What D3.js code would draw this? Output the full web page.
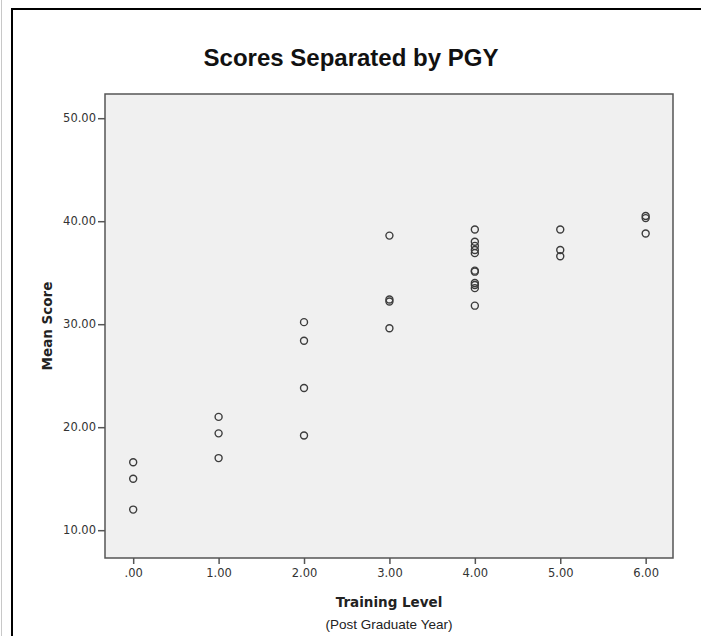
<!DOCTYPE html>
<html lang="en">
<head>
    <meta charset="UTF-8">
    <title>Scores Separated by PGY</title>
    <script src="https://d3js.org/d3.v7.min.js"></script>
    <style>
        body { margin: 0; background: #fff; }
    </style>
</head>
<body>
    <div id="chart"></div>

    <script>
        // data
        const pgyLevels = [0, 1, 2, 3, 4, 5, 6];
        const yTicks = [10, 20, 30, 40, 50];

        const pgy0 = [16.6, 15.0, 12.0];
        const pgy1 = [21.0, 19.4, 17.0];
        const pgy2 = [30.2, 28.4, 23.8, 19.2];
        const pgy3 = [38.6, 32.4, 32.2, 29.6];
        const pgy4 = [39.2, 38.0, 37.6, 37.2, 36.9, 35.2, 35.1, 34.0, 33.8, 33.5, 31.8];
        const pgy5 = [39.2, 37.2, 36.6];
        const pgy6 = [40.5, 40.3, 38.8];

        const scoresByLevel = [pgy0, pgy1, pgy2, pgy3, pgy4, pgy5, pgy6];

        const points = [];
        scoresByLevel.forEach((scores, i) => {
            scores.forEach(s => points.push({ level: pgyLevels[i], score: s }));
        });

        const W = 701, H = 636;
        const plot = { left: 105, right: 673, top: 94, bottom: 558 };

        const svg = d3.select("#chart")
            .append("svg")
            .attr("width", W)
            .attr("height", H);

        // outer frame lines
        svg.append("line").attr("x1", 1.5).attr("x2", 1.5).attr("y1", 0).attr("y2", H)
            .attr("stroke", "#c8c8c8").attr("stroke-width", 1);
        svg.append("line").attr("x1", 12).attr("x2", 12).attr("y1", 8).attr("y2", H)
            .attr("stroke", "#000").attr("stroke-width", 2);
        svg.append("line").attr("x1", 11).attr("x2", W).attr("y1", 9).attr("y2", 9)
            .attr("stroke", "#000").attr("stroke-width", 2);

        const x = d3.scaleLinear().domain([-0.33, 6.32]).range([plot.left, plot.right]);
        const y = d3.scaleLinear().domain([7.3, 52.35]).range([plot.bottom, plot.top]);

        svg.append("rect")
            .attr("x", plot.left)
            .attr("y", plot.top)
            .attr("width", plot.right - plot.left)
            .attr("height", plot.bottom - plot.top)
            .attr("fill", "#f0f0f0")
            .attr("stroke", "#555")
            .attr("stroke-width", 1.5);

        // y axis
        const yAxis = svg.append("g")
            .attr("transform", `translate(${plot.left},0)`)
            .call(d3.axisLeft(y).tickValues(yTicks).tickSize(7).tickPadding(2)
                .tickFormat(d3.format(".2f")));
        yAxis.attr("font-family", "DejaVu Sans, Verdana, sans-serif").attr("font-size", 11.5);
        yAxis.select(".domain").remove();
        yAxis.selectAll("line").attr("stroke", "#555").attr("stroke-width", 1.5);
        yAxis.selectAll("text").attr("fill", "#333");

        // x axis
        const xAxis = svg.append("g")
            .attr("transform", `translate(0,${plot.bottom})`)
            .call(d3.axisBottom(x).tickValues(pgyLevels).tickSize(6).tickPadding(5)
                .tickFormat(d => d === 0 ? ".00" : d3.format(".2f")(d)));
        xAxis.attr("font-family", "DejaVu Sans, Verdana, sans-serif").attr("font-size", 11.5);
        xAxis.select(".domain").remove();
        xAxis.selectAll("line").attr("stroke", "#555").attr("stroke-width", 1.5);
        xAxis.selectAll("text").attr("fill", "#333");

        // points
        svg.append("g")
            .selectAll("circle")
            .data(points)
            .join("circle")
                .attr("cx", d => x(d.level))
                .attr("cy", d => y(d.score))
                .attr("r", 3.5)
                .attr("fill", "none")
                .attr("stroke", "#3c3c3c")
                .attr("stroke-width", 1.4);

        // titles
        svg.append("text")
            .attr("x", 351)
            .attr("y", 66)
            .attr("text-anchor", "middle")
            .attr("font-family", "Liberation Sans, Arial, sans-serif")
            .attr("font-weight", "bold")
            .attr("font-size", 24)
            .attr("fill", "#111")
            .text("Scores Separated by PGY");

        svg.append("text")
            .attr("transform", `translate(52,${(plot.top + plot.bottom) / 2}) rotate(-90)`)
            .attr("text-anchor", "middle")
            .attr("font-family", "DejaVu Sans, sans-serif")
            .attr("font-weight", "bold")
            .attr("font-size", 13.5)
            .attr("fill", "#222")
            .text("Mean Score");

        svg.append("text")
            .attr("x", 389)
            .attr("y", 607)
            .attr("text-anchor", "middle")
            .attr("font-family", "DejaVu Sans, sans-serif")
            .attr("font-weight", "bold")
            .attr("font-size", 13.5)
            .attr("fill", "#222")
            .text("Training Level");

        svg.append("text")
            .attr("x", 389)
            .attr("y", 629)
            .attr("text-anchor", "middle")
            .attr("font-family", "Liberation Sans, Arial, sans-serif")
            .attr("font-size", 13.5)
            .attr("fill", "#222")
            .text("(Post Graduate Year)");
    </script>
</body>
</html>
